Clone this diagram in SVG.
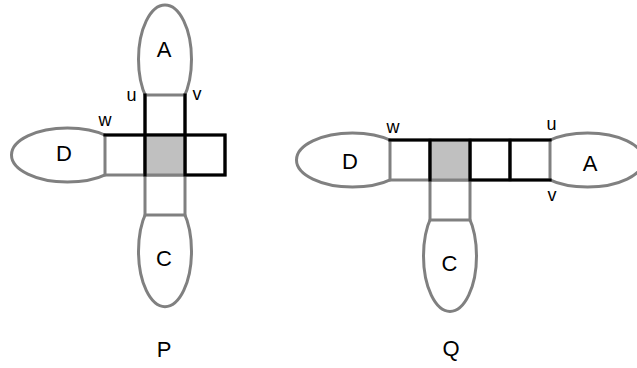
<svg xmlns="http://www.w3.org/2000/svg" width="637" height="368" viewBox="0 0 637 368">
<style>
.lobe{fill:#fff;stroke:#808080;stroke-width:3}
.cell{fill:#fff;stroke:#808080;stroke-width:3}
.hub{fill:#c0c0c0;stroke:#808080;stroke-width:3}
.bold{fill:none;stroke:#000;stroke-width:3.2;stroke-linecap:square;stroke-linejoin:miter}
.big{font-family:"Liberation Sans",Arial,sans-serif;font-size:22px;fill:#000;text-anchor:middle}
.small{font-family:"Liberation Sans",Arial,sans-serif;font-size:18px;fill:#000;text-anchor:middle}
</style>
<rect width="637" height="368" fill="#fff"/>
<g id="P">
  <g id="P-A"><ellipse class="lobe" cx="165" cy="59.3" rx="26.5" ry="54.3"/><text class="big" x="164" y="57">A</text></g>
  <g id="P-D"><ellipse class="lobe" cx="67.4" cy="155" rx="55.9" ry="27"/><text class="big" x="64" y="161">D</text></g>
  <g id="P-C"><ellipse class="lobe" cx="165" cy="251.3" rx="26.5" ry="55.4"/><text class="big" x="164" y="266">C</text></g>
  <g id="P-cells">
    <rect class="cell" x="145" y="95" width="40" height="40"/>
    <rect class="cell" x="105" y="135" width="40" height="40"/>
    <rect class="cell" x="185" y="135" width="40" height="40"/>
    <rect class="cell" x="145" y="175" width="40" height="40"/>
    <rect class="hub" x="145" y="135" width="40" height="40"/>
  </g>
  <g id="P-connectors">
    <path class="bold" d="M145,95V175M185,95V175M105,135H225V175H185"/>
  </g>
  <g id="P-labels">
    <text class="small" x="131.5" y="101">u</text>
    <text class="small" x="197" y="100">v</text>
    <text class="small" x="105" y="126">w</text>
    <text class="big" x="164" y="357">P</text>
  </g>
</g>
<g id="Q">
  <g id="Q-D"><ellipse class="lobe" cx="352.4" cy="160" rx="55.9" ry="27"/><text class="big" x="350" y="169">D</text></g>
  <g id="Q-A"><ellipse class="lobe" cx="587.6" cy="160" rx="55.9" ry="27"/><text class="big" x="590" y="171">A</text></g>
  <g id="Q-C"><ellipse class="lobe" cx="450" cy="256" rx="26.5" ry="55.4"/><text class="big" x="449.5" y="271">C</text></g>
  <g id="Q-cells">
    <rect class="cell" x="390" y="140" width="40" height="40"/>
    <rect class="cell" x="470" y="140" width="40" height="40"/>
    <rect class="cell" x="510" y="140" width="40" height="40"/>
    <rect class="cell" x="430" y="180" width="40" height="40"/>
    <rect class="hub" x="430" y="140" width="40" height="40"/>
  </g>
  <g id="Q-connectors">
    <path class="bold" d="M390,140H550M430,140V180M470,140V180M510,140V180M470,180H550"/>
  </g>
  <g id="Q-labels">
    <text class="small" x="393" y="133">w</text>
    <text class="small" x="551.5" y="130">u</text>
    <text class="small" x="552" y="201">v</text>
    <text class="big" x="451" y="356">Q</text>
  </g>
</g>
</svg>
